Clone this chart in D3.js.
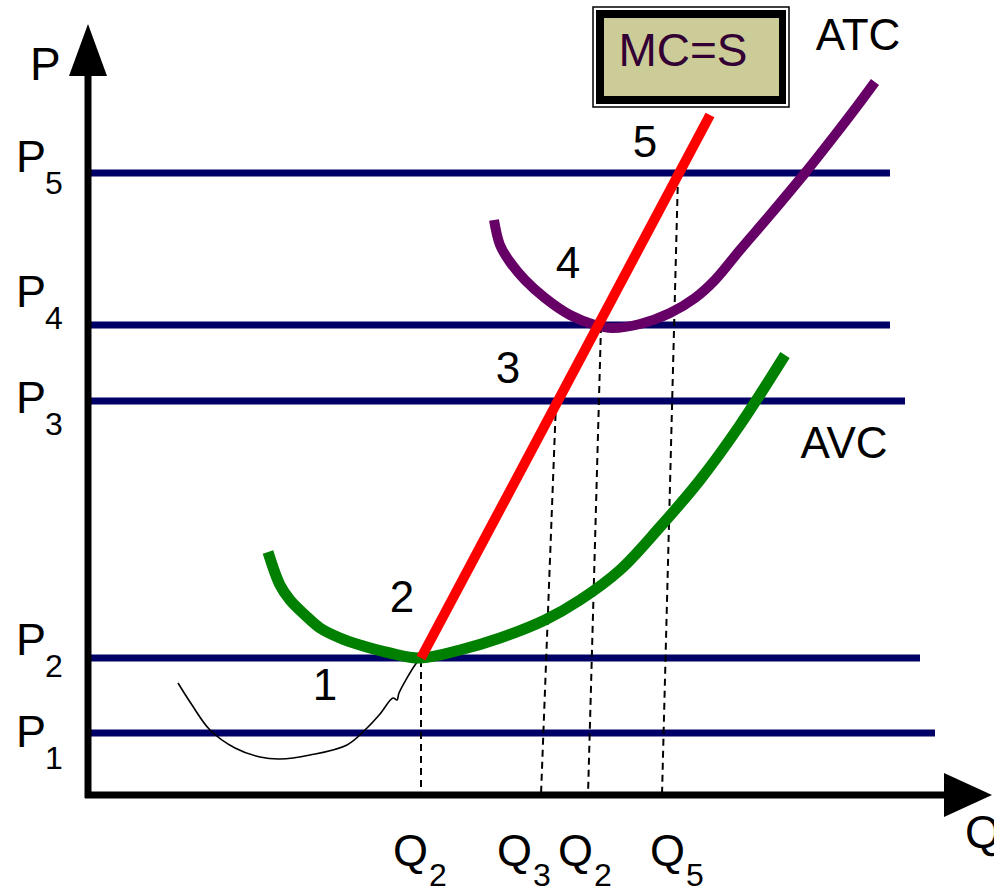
<!DOCTYPE html>
<html>
<head>
<meta charset="utf-8">
<script src="https://cdn.jsdelivr.net/npm/d3@7"></script>
<style>
  html, body { margin: 0; padding: 0; background: #fff; }
  svg { display: block; }
  text { font-family: "Liberation Sans", Arial, sans-serif; }
</style>
</head>
<body>
<script>
// price levels (P axis units) and how far each horizontal line reaches (Q units)
const priceNames = ["1", "2", "3", "4", "5"];
const priceLevels = [62, 137, 394, 470, 622];
const priceLineEnds = [847, 832, 817, 802, 802];

// cost curves, [Q, P]
const avc = [[180, 243], [192, 210], [202, 195], [217, 180], [232, 167], [252, 157],
  [272, 150], [302, 142], [332, 137], [372, 145], [412, 157], [457, 175], [492, 195],
  [532, 225], [572, 268], [612, 315], [652, 370], [697, 440]];
const atc = [[406, 575], [412, 550], [422, 533], [437, 515], [457, 497], [482, 480],
  [507, 470], [524, 467], [552, 471], [582, 482], [607, 497], [627, 515], [652, 545],
  [682, 580], [717, 622], [747, 660], [770, 690], [787, 713]];
const mc = [[333, 137], [622, 680]];
const mcLow = [[90, 112], [104, 90], [122, 65], [147, 47], [172, 38], [192, 36],
  [222, 40], [259, 50], [279, 67], [292, 81], [305, 97], [309, 95], [311, 102],
  [327, 130], [332, 136]];

// dashed drop lines: top point on MC, foot on the Q axis
const dropTops = [[333, 135], [468, 393], [513, 469], [590, 620]];
const dropFeet = [333, 453, 500, 574];

// Q tick labels
const qNames = ["2", "3", "2", "5"];
const qLabelAt = [305, 409, 470, 562];

// numbered regions
const regionNames = ["1", "2", "3", "4", "5"];
const regionAt = [[237, 95], [314, 183], [420, 412], [480, 517], [557, 638]];

const W = 994, H = 888;
const x = d3.scaleLinear().domain([0, 900]).range([88, 988]);
const y = d3.scaleLinear().domain([0, 800]).range([795, -5]);

const svg = d3.select("body").append("svg").attr("width", W).attr("height", H);

// price lines
const navy = "#000066";
svg.append("g").selectAll("line")
  .data(priceLevels)
  .join("line")
  .attr("x1", x(0)).attr("x2", (d, i) => x(priceLineEnds[i]))
  .attr("y1", d => y(d)).attr("y2", d => y(d))
  .attr("stroke", navy).attr("stroke-width", 7);

// price labels P with subscript
const pdy = [14, -3, 12, -18, -1];
const pl = svg.append("g").selectAll("g")
  .data(priceLevels)
  .join("g")
  .attr("transform", (d, i) => `translate(16,${y(d) + pdy[i]})`);
pl.append("text").attr("font-size", 45).text("P");
pl.append("text").attr("x", 29).attr("y", 22).attr("font-size", 32)
  .text((d, i) => priceNames[i]);

// dashed drop lines
svg.append("g").selectAll("line")
  .data(dropTops)
  .join("line")
  .attr("x1", d => x(d[0])).attr("y1", d => y(d[1]))
  .attr("x2", (d, i) => x(dropFeet[i])).attr("y2", y(0))
  .attr("stroke", "#000").attr("stroke-width", 2)
  .attr("stroke-dasharray", "7,5");

const line = d3.line().x(d => x(d[0])).y(d => y(d[1])).curve(d3.curveCatmullRom);

svg.append("path").attr("d", line(mcLow))
  .attr("fill", "none").attr("stroke", "#000").attr("stroke-width", 1.6);

svg.append("path").attr("d", line(avc))
  .attr("fill", "none").attr("stroke", "#008000").attr("stroke-width", 11);

svg.append("path").attr("d", line(atc))
  .attr("fill", "none").attr("stroke", "#660066").attr("stroke-width", 10);

svg.append("path").attr("d", d3.line().x(d => x(d[0])).y(d => y(d[1]))(mc))
  .attr("fill", "none").attr("stroke", "#ff0000").attr("stroke-width", 10);

// axes with arrow heads
svg.append("line")
  .attr("x1", x(0)).attr("y1", y(0) + 3).attr("x2", x(0)).attr("y2", 70)
  .attr("stroke", "#000").attr("stroke-width", 7);
svg.append("path")
  .attr("d", `M${x(0)},24 L${x(0) - 19},76 L${x(0) + 19},76 Z`).attr("fill", "#000");
svg.append("line")
  .attr("x1", x(0) - 3).attr("y1", y(0)).attr("x2", 950).attr("y2", y(0))
  .attr("stroke", "#000").attr("stroke-width", 7);
svg.append("path")
  .attr("d", `M992,${y(0)} L944,${y(0) - 22} L944,${y(0) + 22} Z`).attr("fill", "#000");

svg.append("text").attr("x", 30).attr("y", 80).attr("font-size", 46).text("P");
svg.append("text").attr("x", 965).attr("y", 848).attr("font-size", 46).text("Q");

// Q labels
const ql = svg.append("g").selectAll("g")
  .data(qLabelAt)
  .join("g")
  .attr("transform", d => `translate(${x(d)},866)`);
ql.append("text").attr("font-size", 45).text("Q");
ql.append("text").attr("x", 36).attr("y", 20).attr("font-size", 32)
  .text((d, i) => qNames[i]);

// region numbers
svg.append("g").selectAll("text")
  .data(regionAt)
  .join("text")
  .attr("x", d => x(d[0])).attr("y", d => y(d[1]))
  .attr("text-anchor", "middle").attr("font-size", 44)
  .text((d, i) => regionNames[i]);

// curve names
svg.append("text").attr("x", 858).attr("y", 50).attr("text-anchor", "middle")
  .attr("font-size", 44).text("ATC");
svg.append("text").attr("x", 844).attr("y", 458).attr("text-anchor", "middle")
  .attr("font-size", 44).text("AVC");

// MC=S box
const box = svg.append("g");
box.append("rect").attr("x", 593).attr("y", 7).attr("width", 196).attr("height", 100)
  .attr("fill", "#fff").attr("stroke", "#000").attr("stroke-width", 1.5);
box.append("rect").attr("x", 596).attr("y", 10).attr("width", 190).attr("height", 94)
  .attr("fill", "#000");
box.append("rect").attr("x", 604).attr("y", 18).attr("width", 175).attr("height", 78)
  .attr("fill", "#cccc99");
box.append("text").attr("x", 683).attr("y", 66).attr("text-anchor", "middle")
  .attr("font-size", 46).attr("fill", "#330033").text("MC=S");
</script>
</body>
</html>
